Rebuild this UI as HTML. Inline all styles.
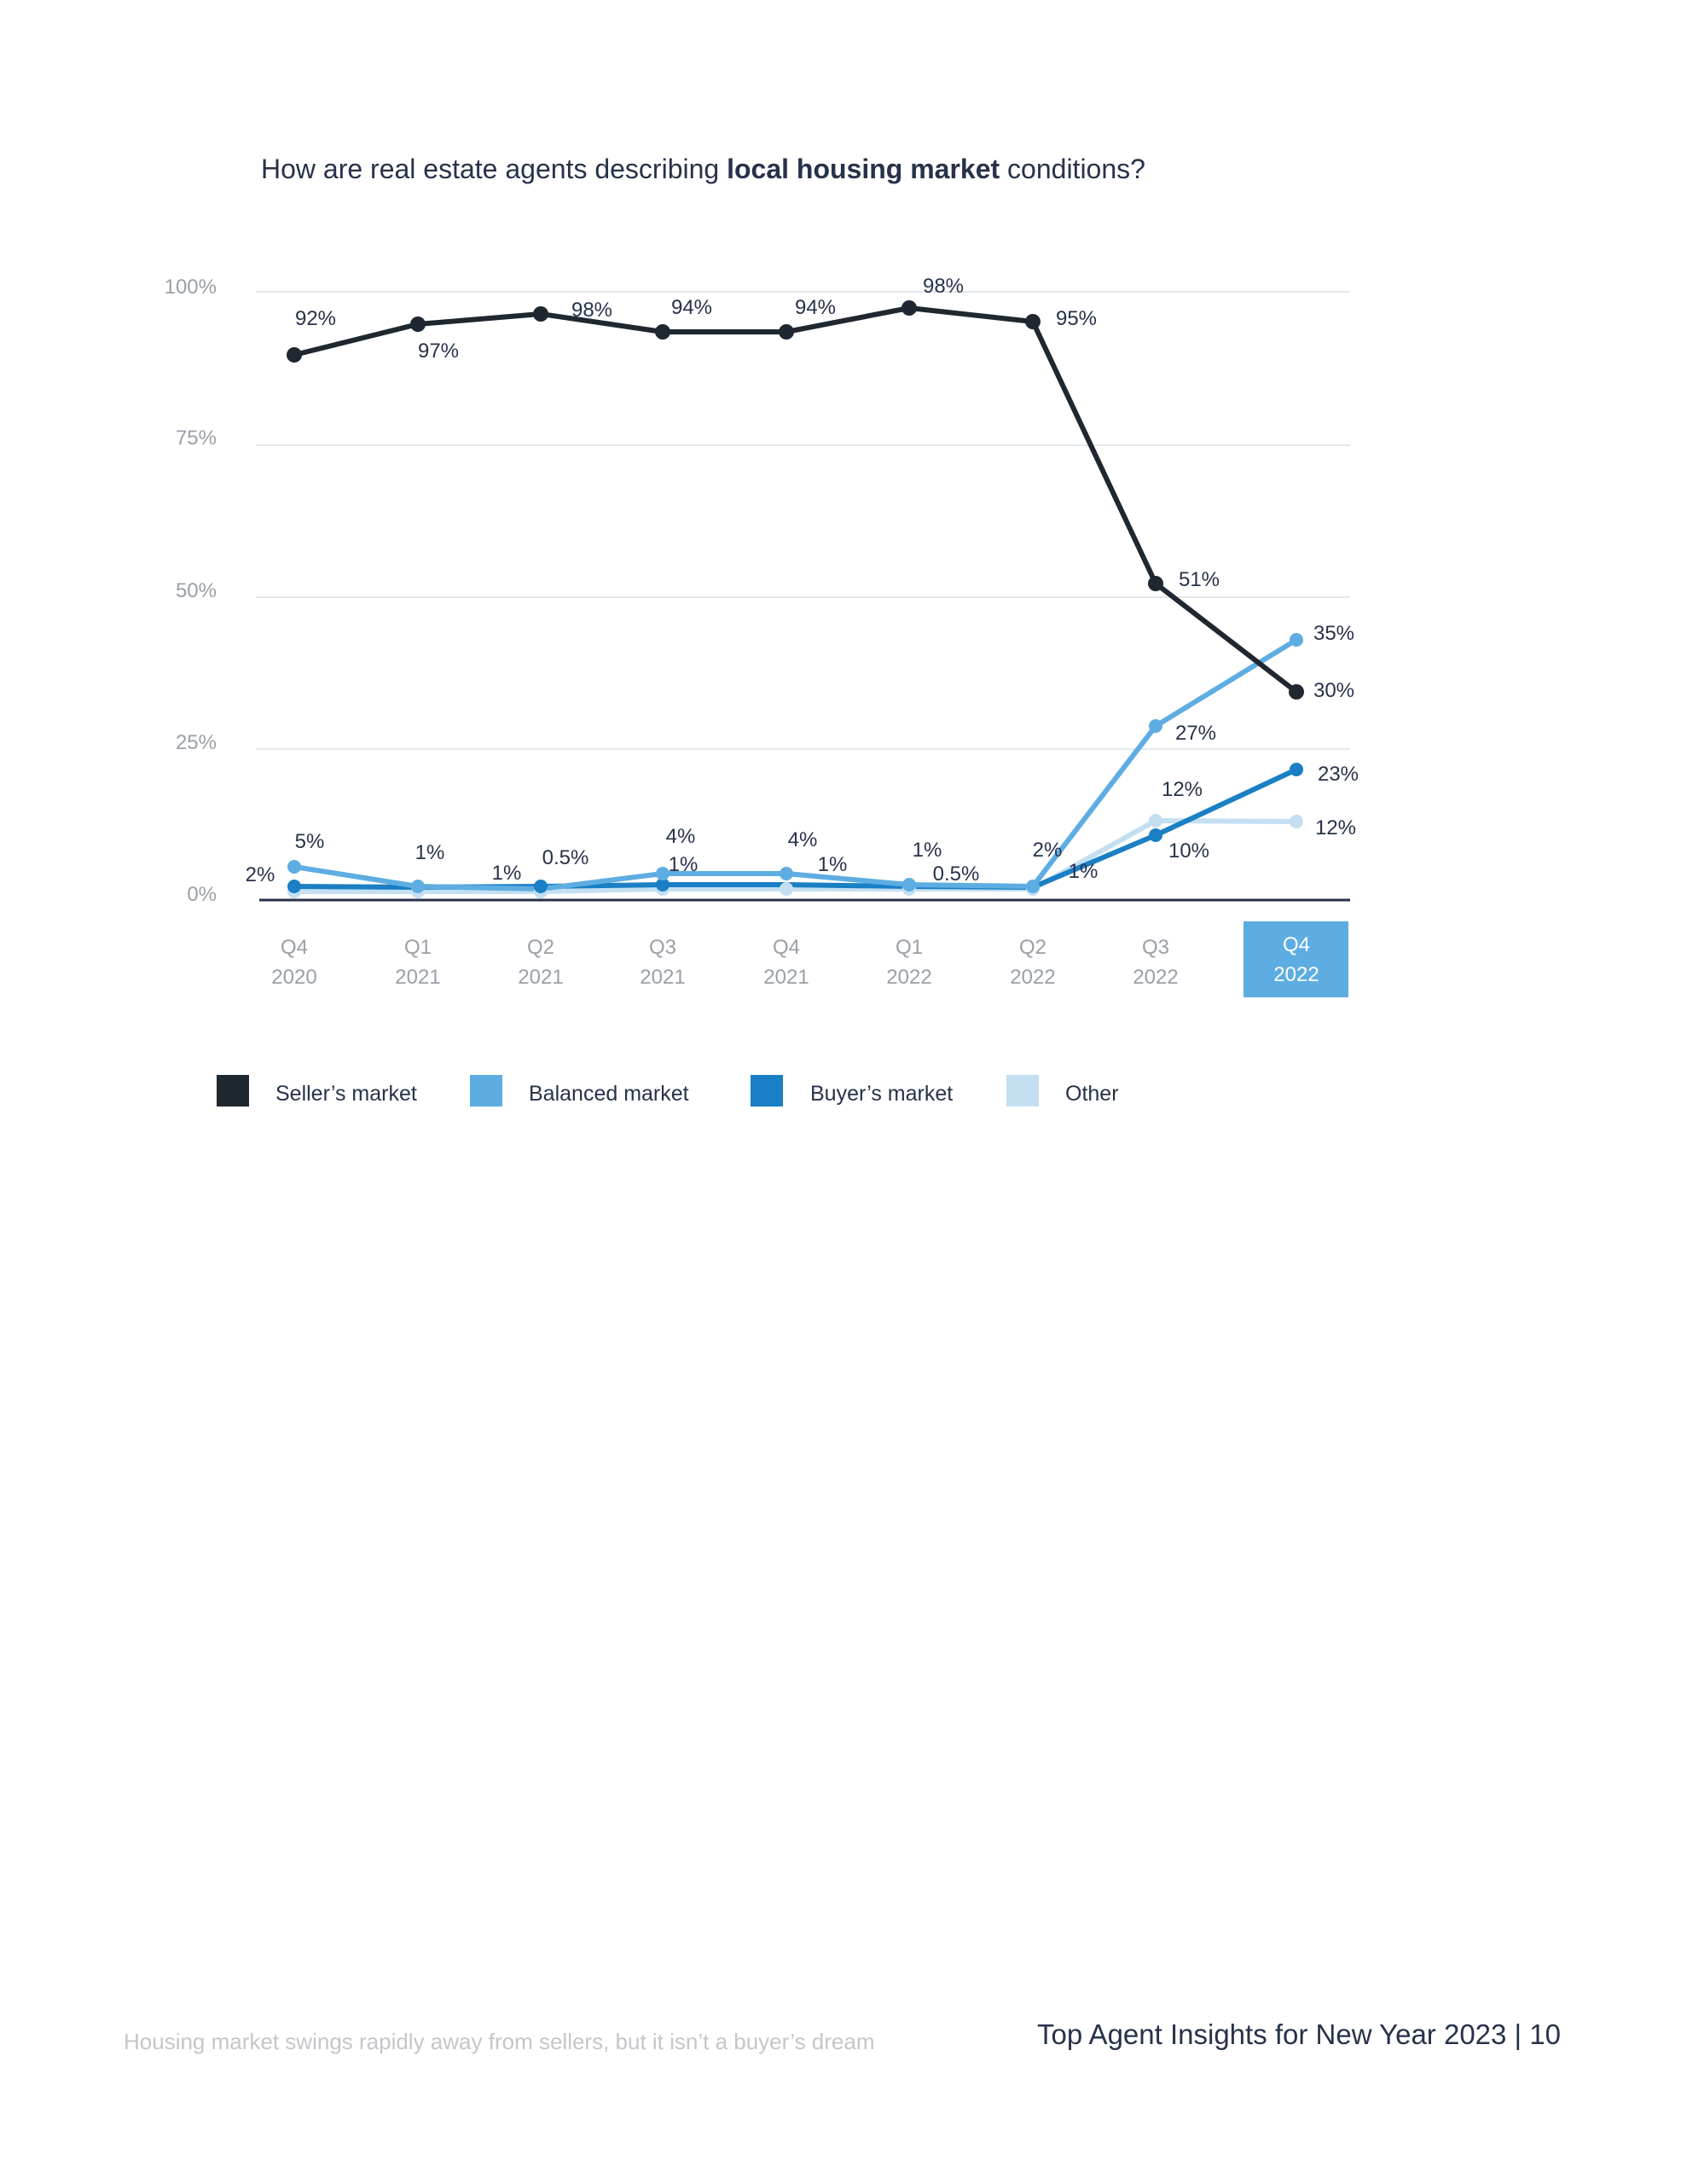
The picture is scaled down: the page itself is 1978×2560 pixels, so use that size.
<!DOCTYPE html>
<html><head><meta charset="utf-8"><style>
html,body{margin:0;padding:0;background:#fff;}
svg{display:block;font-family:"Liberation Sans",sans-serif;}
</style></head><body>
<svg width="1978" height="2560" viewBox="0 0 1978 2560" xmlns="http://www.w3.org/2000/svg">
<text x="306" y="209" font-size="32" fill="#27324a">How are real estate agents describing <tspan font-weight="bold">local housing market</tspan> conditions?</text>
<g stroke="#e3e8ec" stroke-width="2">
<line x1="300" y1="342" x2="1583" y2="342"/>
<line x1="300" y1="522" x2="1583" y2="522"/>
<line x1="300" y1="700" x2="1583" y2="700"/>
<line x1="300" y1="878" x2="1583" y2="878"/>
</g>
<line x1="304" y1="1055" x2="1583" y2="1055" stroke="#27324a" stroke-width="3"/>
<g font-size="24" fill="#9aa0a8" text-anchor="end">
<text x="254" y="344">100%</text>
<text x="254" y="521">75%</text>
<text x="254" y="700">50%</text>
<text x="254" y="878">25%</text>
<text x="254" y="1056">0%</text>
</g>
<rect x="1458" y="1080" width="123" height="89" fill="#5dade2"/>
<g font-size="24" fill="#9aa0a8" text-anchor="middle">
<text x="345" y="1118">Q4</text><text x="345" y="1153">2020</text>
<text x="490" y="1118">Q1</text><text x="490" y="1153">2021</text>
<text x="634" y="1118">Q2</text><text x="634" y="1153">2021</text>
<text x="777" y="1118">Q3</text><text x="777" y="1153">2021</text>
<text x="922" y="1118">Q4</text><text x="922" y="1153">2021</text>
<text x="1066" y="1118">Q1</text><text x="1066" y="1153">2022</text>
<text x="1211" y="1118">Q2</text><text x="1211" y="1153">2022</text>
<text x="1355" y="1118">Q3</text><text x="1355" y="1153">2022</text>
<text x="1520" y="1115" fill="#fff">Q4</text><text x="1520" y="1150" fill="#fff">2022</text>
</g>
<g fill="none" stroke-width="6" stroke-linejoin="round">
<polyline stroke="#c4dff2" points="345,1045 490,1045 634,1045 777,1042 922,1042 1066,1042 1211,1042 1355,962 1520,963"/>
<polyline stroke="#1a7fc4" points="345,1039 490,1040 634,1039 777,1037 922,1037 1066,1039 1211,1040 1355,979 1520,902"/>
<polyline stroke="#5dade2" points="345,1016 490,1039 634,1042 777,1024 922,1024 1066,1037 1211,1039 1355,851 1520,750"/>
<polyline stroke="#1f2730" points="345,416 490,380 634,368 777,389 922,389 1066,361 1211,377 1355,684 1520,811"/>
</g>
<g fill="#c4dff2"><circle cx="345" cy="1045" r="8"/><circle cx="490" cy="1045" r="8"/><circle cx="634" cy="1045" r="8"/><circle cx="777" cy="1042" r="8"/><circle cx="922" cy="1042" r="8"/><circle cx="1066" cy="1042" r="8"/><circle cx="1211" cy="1042" r="8"/><circle cx="1355" cy="962" r="8"/><circle cx="1520" cy="963" r="8"/></g>
<g fill="#1a7fc4"><circle cx="345" cy="1039" r="8"/><circle cx="634" cy="1039" r="8"/><circle cx="777" cy="1037" r="8"/><circle cx="1355" cy="979" r="8"/><circle cx="1520" cy="902" r="8"/></g>
<g fill="#5dade2"><circle cx="345" cy="1016" r="8"/><circle cx="490" cy="1039" r="8"/><circle cx="777" cy="1024" r="8"/><circle cx="922" cy="1024" r="8"/><circle cx="1066" cy="1037" r="8"/><circle cx="1211" cy="1039" r="8"/><circle cx="1355" cy="851" r="8"/><circle cx="1520" cy="750" r="8"/></g>
<g fill="#1f2730"><circle cx="345" cy="416" r="9"/><circle cx="490" cy="380" r="9"/><circle cx="634" cy="368" r="9"/><circle cx="777" cy="389" r="9"/><circle cx="922" cy="389" r="9"/><circle cx="1066" cy="361" r="9"/><circle cx="1211" cy="377" r="9"/><circle cx="1355" cy="684" r="9"/><circle cx="1520" cy="811" r="9"/></g>
<g font-size="24" fill="#27324a" text-anchor="middle">
<text x="370" y="381">92%</text><text x="514" y="419">97%</text><text x="694" y="371">98%</text><text x="811" y="368">94%</text><text x="956" y="368">94%</text><text x="1106" y="343">98%</text><text x="1262" y="381">95%</text>
<text x="1406" y="687">51%</text><text x="1564" y="750">35%</text><text x="1564" y="817">30%</text><text x="1402" y="867">27%</text><text x="1569" y="915">23%</text><text x="1386" y="933">12%</text><text x="1566" y="978">12%</text><text x="1394" y="1005">10%</text>
<text x="363" y="994">5%</text><text x="305" y="1033">2%</text><text x="504" y="1007">1%</text><text x="594" y="1031">1%</text><text x="663" y="1013">0.5%</text><text x="798" y="988">4%</text><text x="801" y="1021">1%</text><text x="941" y="992">4%</text><text x="976" y="1021">1%</text><text x="1087" y="1004">1%</text><text x="1121" y="1032">0.5%</text><text x="1228" y="1004">2%</text><text x="1270" y="1029">1%</text>
</g>
<rect x="254" y="1260" width="38" height="37" fill="#1f2730"/>
<rect x="551" y="1260" width="38" height="37" fill="#5dade2"/>
<rect x="880" y="1260" width="38" height="37" fill="#1a7fc4"/>
<rect x="1180" y="1260" width="38" height="37" fill="#c4dff2"/>
<g font-size="25" fill="#27324a">
<text x="323" y="1290">Seller’s market</text>
<text x="620" y="1290">Balanced market</text>
<text x="950" y="1290">Buyer’s market</text>
<text x="1249" y="1290">Other</text>
</g>
<text x="145" y="2402" font-size="26" fill="#c4c6ca">Housing market swings rapidly away from sellers, but it isn’t a buyer’s dream</text>
<text x="1830" y="2396" font-size="33" fill="#27324a" text-anchor="end">Top Agent Insights for New Year 2023  |  10</text>
</svg>
</body></html>
